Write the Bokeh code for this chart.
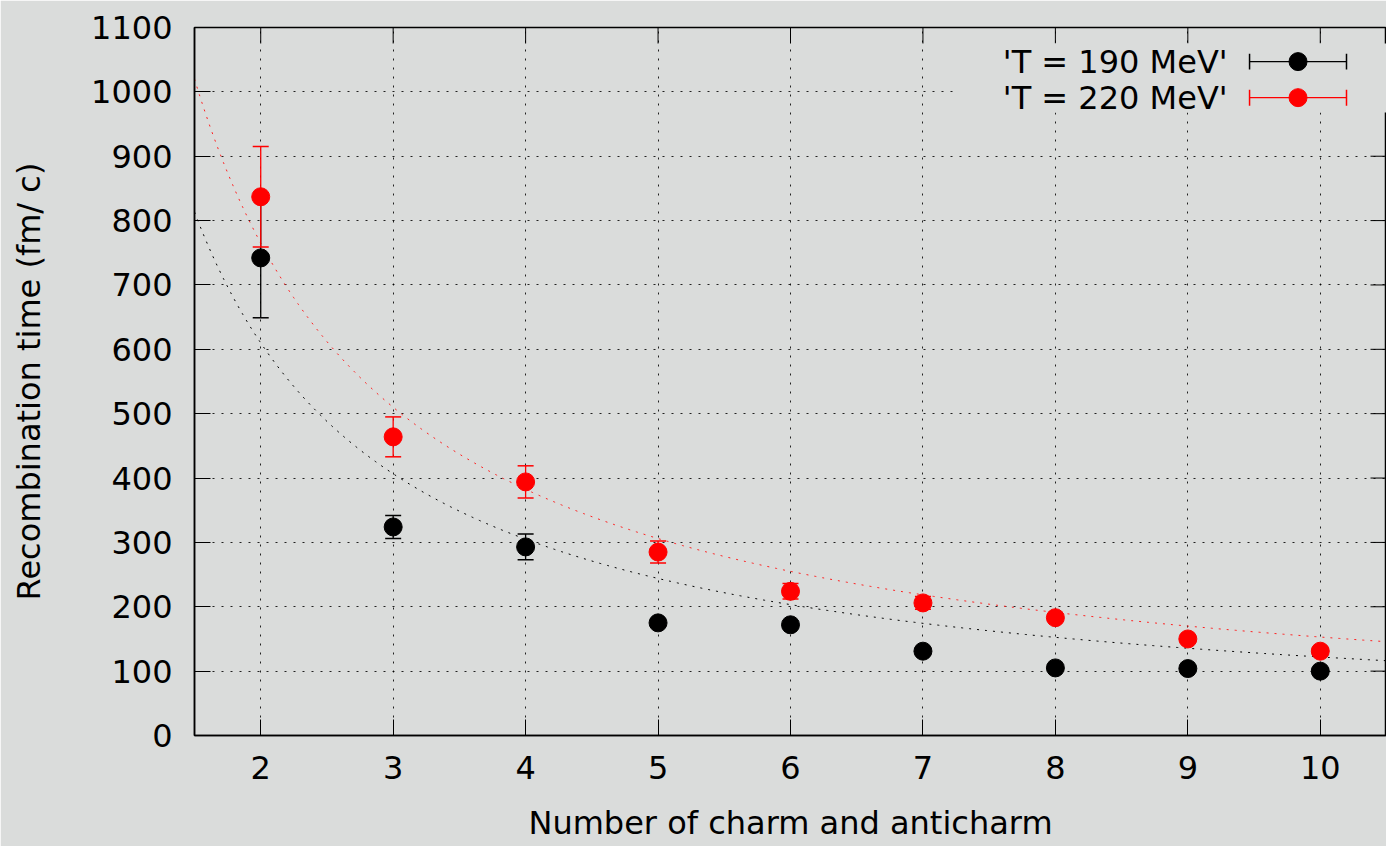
import numpy as np
from bokeh.plotting import figure
from bokeh.models import Range1d, FixedTicker, Label
from bokeh.embed import file_html
from bokeh.resources import INLINE

# ---- data ----
n_charm = [2, 3, 4, 5, 6, 7, 8, 9, 10]
t190 = [742, 324, 293, 175, 172, 131, 105, 104, 100]
t190_err = [93, 18, 20, 6, 6, 5, 5, 5, 5]
t220 = [837, 464, 394, 285, 224, 206, 183, 150, 131]
t220_err = [78, 31, 25, 17, 12, 10, 6, 6, 6]
# fitted curves f(n) = a / n
fit_a_190 = 1220.0
fit_a_220 = 1530.0
x_ticks = [2, 3, 4, 5, 6, 7, 8, 9, 10]
y_ticks = list(range(0, 1101, 100))
labels = ["'T = 190 MeV'", "'T = 220 MeV'"]

BG = "#dadcdb"
FONT = "DejaVu Sans"
FS = "32px"
X0, X1, Y0, Y1 = 1.5, 10.5, 0, 1100

p = figure(width=1386, height=846, output_backend="svg", toolbar_location=None,
           x_range=Range1d(X0, X1), y_range=Range1d(Y0, Y1),
           min_border_left=194, min_border_top=27, min_border_bottom=111,
           min_border_right=0)
p.background_fill_color = BG
p.border_fill_color = BG
p.outline_line_color = "black"
p.outline_line_width = 1.5

for ax in (p.xaxis[0], p.yaxis[0]):
    ax.major_label_text_font = FONT
    ax.major_label_text_font_size = FS
    ax.major_label_text_color = "black"
    ax.axis_label_text_font = FONT
    ax.axis_label_text_font_size = FS
    ax.axis_label_text_font_style = "normal"
    ax.axis_label_text_color = "black"
    ax.major_tick_in = 16
    ax.major_tick_out = 0
    ax.minor_tick_line_color = None
    ax.axis_line_color = "black"
    ax.axis_line_width = 1.5
    ax.major_tick_line_color = "black"

p.xaxis[0].ticker = FixedTicker(ticks=x_ticks)
p.yaxis[0].ticker = FixedTicker(ticks=y_ticks)
p.xaxis[0].axis_label = "Number of charm and anticharm"
p.yaxis[0].axis_label = "Recombination time (fm/ c)"
p.xaxis[0].major_label_standoff = 20
p.xaxis[0].axis_label_standoff = 22
p.yaxis[0].major_label_standoff = 22
p.yaxis[0].axis_label_standoff = 40

for g in (p.xgrid[0], p.ygrid[0]):
    g.grid_line_color = "black"
    g.grid_line_dash = "2 7"
    g.grid_line_width = 1
    g.grid_line_alpha = 0.85
p.xgrid[0].ticker = FixedTicker(ticks=x_ticks)
p.ygrid[0].ticker = FixedTicker(ticks=y_ticks)

# mirror ticks (16 px long) on the top and right frame edges
tick_dy = 16 / (707 / (Y1 - Y0))
tick_dx = 16 / (1192 / (X1 - X0))
p.segment(x_ticks, [Y1] * len(x_ticks), x_ticks, [Y1 - tick_dy] * len(x_ticks),
          line_color="black", line_width=1)
p.segment([X1] * len(y_ticks), y_ticks, [X1 - tick_dx] * len(y_ticks), y_ticks,
          line_color="black", line_width=1)

# fit curves
xs = np.linspace(X0, X1 + 0.1, 500)
p.line(xs, fit_a_190 / xs, line_color="black", line_width=1, line_dash="2 6")
p.line(xs, fit_a_220 / xs, line_color="#ff2020", line_width=1, line_dash="2 6")

# data with error bars
series = [(t190, t190_err, "black"), (t220, t220_err, "#ff0000")]
for vals, errs, col in series:
    up = [v + e for v, e in zip(vals, errs)]
    lo = [v - e for v, e in zip(vals, errs)]
    p.segment(n_charm, lo, n_charm, up, line_color=col, line_width=1.3)
    p.scatter(n_charm, up, marker="dash", size=16, line_color=col, line_width=1.5)
    p.scatter(n_charm, lo, marker="dash", size=16, line_color=col, line_width=1.5)
    p.scatter(n_charm, vals, marker="circle", size=18, fill_color=col, line_color=col)

# legend (gnuplot style: text then sample), masking the grid behind it
p.quad(left=[7.26], right=[X1], bottom=[968], top=[Y1 - tick_dy], fill_color=BG, line_color=None)
leg_y = [1047, 991]
for (vals, errs, col), ly, lab in zip(series, leg_y, labels):
    p.segment([9.466], [ly], [10.198], [ly], line_color=col, line_width=1.3)
    p.segment([9.466, 10.198], [ly - 12.4, ly - 12.4], [9.466, 10.198], [ly + 12.4, ly + 12.4],
              line_color=col, line_width=1.5)
    p.scatter([9.832], [ly], marker="circle", size=18, fill_color=col, line_color=col)
    p.add_layout(Label(x=9.30, y=ly, text=lab, text_align="right", text_baseline="middle",
                       text_font=FONT, text_font_size=FS, text_color="black"))

open("out.html", "w").write(file_html(p, INLINE))
